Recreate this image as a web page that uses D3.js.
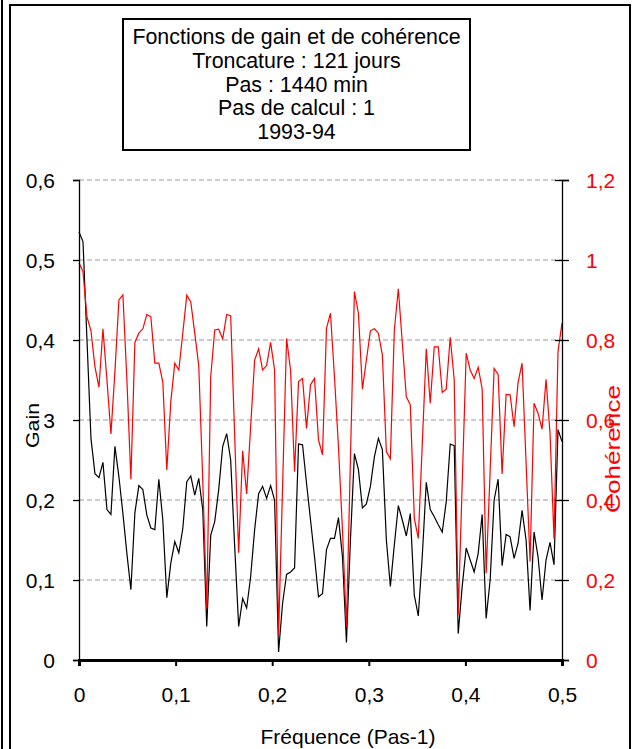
<!DOCTYPE html>
<html>
<head>
<meta charset="utf-8">
<script src="https://cdn.jsdelivr.net/npm/d3@7"></script>
<style>
  html, body { margin: 0; padding: 0; background: #fff; }
  svg { display: block; }
  text { font-family: "Liberation Sans", Arial, sans-serif; }
</style>
</head>
<body>
<svg id="chart" width="635" height="749"></svg>
<script>
// ---------- data ----------
const titleLines = ["Fonctions de gain et de cohérence", "Troncature : 121 jours", "Pas : 1440 min", "Pas de calcul : 1", "1993-94"];
const xTicks = [0, 0.1, 0.2, 0.3, 0.4, 0.5];
const gainTicks = [0, 0.1, 0.2, 0.3, 0.4, 0.5, 0.6];
const cohTicks = [0, 0.2, 0.4, 0.6, 0.8, 1, 1.2];
const nPoints = 122;          // frequencies 0 .. 0.5
const freqMax = 0.5;
const gain = [
  0.535, 0.523, 0.400, 0.277, 0.233, 0.228, 0.247, 0.188, 0.182, 0.267,
  0.229, 0.183, 0.133, 0.088, 0.184, 0.218, 0.213, 0.181, 0.165, 0.163,
  0.226, 0.175, 0.078, 0.121, 0.148, 0.134, 0.164, 0.223, 0.230, 0.206,
  0.227, 0.188, 0.042, 0.156, 0.173, 0.213, 0.267, 0.283, 0.250, 0.142,
  0.042, 0.077, 0.065, 0.104, 0.163, 0.208, 0.217, 0.202, 0.218, 0.200,
  0.010, 0.071, 0.107, 0.110, 0.115, 0.270, 0.269, 0.221, 0.175, 0.129,
  0.079, 0.083, 0.138, 0.152, 0.152, 0.178, 0.129, 0.022, 0.150, 0.258,
  0.238, 0.190, 0.195, 0.217, 0.254, 0.277, 0.263, 0.150, 0.092, 0.144,
  0.193, 0.175, 0.155, 0.183, 0.081, 0.055, 0.130, 0.222, 0.188, 0.179,
  0.169, 0.160, 0.198, 0.270, 0.268, 0.033, 0.092, 0.140, 0.125, 0.110,
  0.133, 0.182, 0.052, 0.100, 0.200, 0.226, 0.118, 0.157, 0.154, 0.127,
  0.146, 0.187, 0.150, 0.062, 0.160, 0.129, 0.075, 0.125, 0.147, 0.119,
  0.288, 0.273
];
const coherence = [
  0.993, 0.971, 0.858, 0.823, 0.733, 0.682, 0.828, 0.700, 0.565, 0.721,
  0.900, 0.913, 0.700, 0.452, 0.794, 0.817, 0.828, 0.864, 0.858, 0.742,
  0.742, 0.694, 0.475, 0.646, 0.742, 0.725, 0.817, 0.912, 0.895, 0.817,
  0.736, 0.450, 0.129, 0.708, 0.825, 0.827, 0.803, 0.864, 0.861, 0.560,
  0.268, 0.523, 0.415, 0.583, 0.750, 0.778, 0.725, 0.736, 0.794, 0.725,
  0.064, 0.433, 0.804, 0.725, 0.471, 0.696, 0.704, 0.579, 0.688, 0.704,
  0.550, 0.513, 0.829, 0.867, 0.708, 0.533, 0.325, 0.083, 0.503, 0.921,
  0.867, 0.677, 0.750, 0.823, 0.828, 0.817, 0.763, 0.521, 0.503, 0.825,
  0.928, 0.792, 0.658, 0.638, 0.354, 0.304, 0.541, 0.778, 0.642, 0.783,
  0.783, 0.669, 0.677, 0.807, 0.700, 0.113, 0.442, 0.767, 0.725, 0.704,
  0.732, 0.678, 0.217, 0.473, 0.729, 0.714, 0.465, 0.664, 0.663, 0.583,
  0.694, 0.742, 0.494, 0.246, 0.642, 0.617, 0.577, 0.702, 0.567, 0.304,
  0.771, 0.842
];
const freq = d3.range(nPoints).map(i => i * freqMax / (nPoints - 1));

// ---------- layout ----------
const svg = d3.select("#chart");
const fs = 21;
const plotL = 79, plotR = 562, plotT = 180, plotB = 660;

const x = d3.scaleLinear().domain([0, 0.5]).range([plotL, plotR]);
const yG = d3.scaleLinear().domain([0, 0.6]).range([plotB, plotT]);
const yC = d3.scaleLinear().domain([0, 1.2]).range([plotB, plotT]);
const fmt = d => String(d).replace(".", ",");

// outer frame
svg.append("line").attr("x1", 2).attr("x2", 2).attr("y1", 0).attr("y2", 749)
  .attr("stroke", "#000").attr("stroke-width", 2);
svg.append("rect").attr("x", 10).attr("y", 5).attr("width", 620).attr("height", 760)
  .attr("fill", "none").attr("stroke", "#000").attr("stroke-width", 2);

// title box
svg.append("rect").attr("x", 123).attr("y", 19).attr("width", 347).attr("height", 131)
  .attr("fill", "#fff").attr("stroke", "#000").attr("stroke-width", 2);
svg.append("g").selectAll("text").data(titleLines).join("text")
  .attr("x", 296.5).attr("y", (d, i) => 44 + i * 23.8)
  .attr("text-anchor", "middle").attr("font-size", 21.4).attr("fill", "#000")
  .text(d => d);

// gridlines
svg.append("g").selectAll("line").data(gainTicks.filter(d => d > 0)).join("line")
  .attr("x1", plotL).attr("x2", plotR)
  .attr("y1", d => yG(d)).attr("y2", d => yG(d))
  .attr("stroke", "#999").attr("stroke-width", 1).attr("stroke-dasharray", "5,3");

// series
const lineG = d3.line().x((d, i) => x(freq[i])).y(d => yG(d));
const lineC = d3.line().x((d, i) => x(freq[i])).y(d => yC(d));
svg.append("path").datum(gain).attr("d", lineG)
  .attr("fill", "none").attr("stroke", "#000").attr("stroke-width", 1.2);
svg.append("path").datum(coherence).attr("d", lineC)
  .attr("fill", "none").attr("stroke", "#ff0000").attr("stroke-width", 1.2);

// left axis
const gL = svg.append("g").attr("transform", `translate(${plotL},0)`)
  .call(d3.axisLeft(yG).tickValues(gainTicks).tickFormat(fmt).tickSize(6).tickPadding(18));
gL.select(".domain").attr("stroke", "#000").attr("stroke-width", 1.3);
gL.selectAll(".tick line").attr("stroke", "#000").attr("stroke-width", 1.3);
gL.selectAll(".tick text").attr("font-size", fs).attr("font-family", "Liberation Sans, Arial, sans-serif")
  .attr("fill", "#000").attr("dy", "0.35em");

// right axis
const gR = svg.append("g").attr("transform", `translate(${plotR},0)`)
  .call(d3.axisRight(yC).tickValues(cohTicks).tickFormat(fmt).tickSize(7).tickPadding(17));
gR.select(".domain").attr("stroke", "#000").attr("stroke-width", 1.3);
gR.selectAll(".tick line").attr("stroke", "#000").attr("stroke-width", 1.3).attr("x1", -7);
gR.selectAll(".tick text").attr("font-size", fs).attr("font-family", "Liberation Sans, Arial, sans-serif")
  .attr("fill", "#ff0000").attr("dy", "0.35em");

// bottom axis
const gB = svg.append("g").attr("transform", `translate(0,${plotB})`)
  .call(d3.axisBottom(x).tickValues(xTicks).tickFormat(fmt).tickSize(6).tickPadding(21));
gB.select(".domain").attr("stroke", "#000").attr("stroke-width", 3);
gB.selectAll(".tick line").attr("stroke", "#000").attr("stroke-width", 2);
gB.selectAll(".tick text").attr("font-size", fs).attr("font-family", "Liberation Sans, Arial, sans-serif")
  .attr("fill", "#000");

// axis titles (rotated)
function axisTitle(tx, ty, label, color, size, len, opaque) {
  const g = svg.append("g").attr("transform", `translate(${tx},${ty}) rotate(-90)`);
  const t = g.append("text").attr("text-anchor", "middle").attr("font-size", size)
    .attr("textLength", len).attr("lengthAdjust", "spacingAndGlyphs")
    .attr("fill", color).text(label);
  if (opaque) {
    const bb = t.node().getBBox();
    g.insert("rect", "text").attr("x", bb.x - 1).attr("y", bb.y + 2)
      .attr("width", bb.width + 2).attr("height", bb.height - 3).attr("fill", "#fff");
  }
}
axisTitle(39, 425.5, "Gain", "#000", 18, 45, true);
axisTitle(620, 449, "Cohérence", "#ff0000", 21, 128, false);

svg.append("text").attr("x", 348).attr("y", 744).attr("text-anchor", "middle")
  .attr("font-size", fs).attr("fill", "#000").text("Fréquence (Pas-1)");
</script>
</body>
</html>
